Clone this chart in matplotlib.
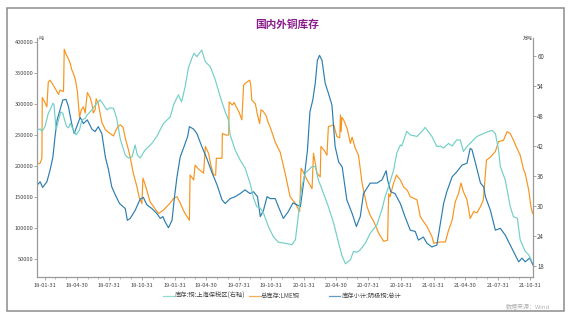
import matplotlib
matplotlib.use('Agg')
import matplotlib.pyplot as plt
import pandas as pd
from matplotlib.patches import Rectangle
from matplotlib.lines import Line2D

plt.rcParams['font.family'] = ['Noto Sans CJK SC', 'DejaVu Sans']

title = '国内外铜库存'
series_names = ['库存:铜:上海保税区(右轴)', '总库存:LME铜', '库存小计:阴极铜:总计']
left_unit = '吨'
right_unit = '万吨'
source_text = '数据来源：Wind'

lme_dates = ['2018-01-09','2018-01-17','2018-01-22','2018-01-23','2018-01-28','2018-02-05','2018-02-09','2018-02-14','2018-02-23','2018-03-05','2018-03-10','2018-03-14','2018-03-22','2018-03-24','2018-03-26','2018-03-31','2018-04-07','2018-04-12','2018-04-16','2018-04-20','2018-04-26','2018-05-02','2018-05-05','2018-05-08','2018-05-13','2018-05-19','2018-05-24','2018-05-30','2018-06-07','2018-06-12','2018-06-16','2018-06-21','2018-06-24','2018-06-30','2018-07-05','2018-07-10','2018-07-20','2018-08-02','2018-08-12','2018-08-17','2018-08-23','2018-08-31','2018-09-08','2018-09-14','2018-09-22','2018-09-28','2018-10-06','2018-10-17','2018-10-23','2018-10-31','2018-11-03','2018-11-09','2018-11-19','2018-11-23','2018-12-03','2018-12-10','2018-12-17','2018-12-22','2018-12-30','2019-01-09','2019-01-19','2019-01-28','2019-02-07','2019-02-16','2019-02-25','2019-03-05','2019-03-14','2019-03-16','2019-03-26','2019-03-30','2019-04-08','2019-04-23','2019-04-28','2019-05-07','2019-05-14','2019-05-21','2019-05-27','2019-05-29','2019-06-14','2019-06-15','2019-06-28','2019-07-03','2019-07-04','2019-07-13','2019-07-18','2019-07-26','2019-08-02','2019-08-09','2019-08-14','2019-08-21','2019-08-31','2019-09-03','2019-09-06','2019-09-16','2019-09-21','2019-09-28','2019-10-02','2019-10-08','2019-10-17','2019-10-22','2019-10-28','2019-11-06','2019-11-11','2019-11-25','2019-12-09','2019-12-23','2020-01-07','2020-01-19','2020-01-23','2020-01-29','2020-02-09','2020-02-23','2020-02-27','2020-03-08','2020-03-17','2020-03-19','2020-03-28','2020-04-05','2020-04-09','2020-04-24','2020-05-03','2020-05-11','2020-05-13','2020-05-15','2020-05-17','2020-05-22','2020-06-01','2020-06-10','2020-06-15','2020-06-24','2020-07-03','2020-07-13','2020-07-27','2020-08-05','2020-08-15','2020-08-29','2020-09-12','2020-09-23','2020-09-26','2020-09-30','2020-10-09','2020-10-18','2020-10-29','2020-11-07','2020-11-18','2020-11-26','2020-12-15','2020-12-24','2021-01-12','2021-01-26','2021-01-31','2021-02-19','2021-03-05','2021-03-14','2021-03-24','2021-04-02','2021-04-11','2021-04-18','2021-04-25','2021-05-05','2021-05-14','2021-05-24','2021-06-02','2021-06-12','2021-06-20','2021-06-23','2021-06-29','2021-07-10','2021-07-24','2021-08-02','2021-08-16','2021-08-26','2021-09-04','2021-09-13','2021-09-23','2021-10-02','2021-10-12','2021-10-16','2021-10-26','2021-11-01','2021-11-06']
lme_values = [203000,204000,212000,310000,305000,295000,335000,338000,330000,320000,315000,322000,320000,320000,388000,380000,372000,365000,355000,350000,340000,320000,300000,278000,290000,295000,285000,318000,310000,300000,285000,290000,308000,300000,285000,270000,258000,252000,248000,255000,262000,266000,262000,245000,228000,214000,190000,166000,150000,139000,180000,170000,150000,142000,134000,128000,123000,125000,128000,134000,140000,147000,150000,140000,128000,120000,112000,185000,177000,201000,195000,188000,231000,220000,200000,185000,185000,212000,212000,252000,249000,250000,303000,298000,302000,293000,285000,274000,330000,334000,338000,330000,306000,300000,285000,268000,290000,288000,280000,270000,262000,247000,238000,222000,188000,150000,139000,126000,196000,190000,177000,163000,220000,188000,182000,231000,225000,217000,263000,266000,247000,245000,282000,255000,278000,274000,260000,236000,246000,228000,217000,172000,134000,120000,110000,91000,78000,80000,155000,150000,170000,185000,177000,166000,160000,150000,145000,118000,102000,86000,75000,77000,77000,96000,112000,142000,155000,172000,158000,145000,115000,126000,124000,134000,145000,166000,209000,214000,223000,239000,241000,255000,252000,241000,228000,217000,193000,188000,161000,135000,123000]

shfe_dates = ['2018-01-09','2018-01-17','2018-01-24','2018-02-05','2018-02-14','2018-02-22','2018-02-28','2018-03-06','2018-03-14','2018-03-22','2018-03-31','2018-04-07','2018-04-16','2018-04-23','2018-05-02','2018-05-10','2018-05-19','2018-05-30','2018-06-12','2018-06-21','2018-06-30','2018-07-10','2018-07-20','2018-07-29','2018-08-07','2018-08-17','2018-08-29','2018-09-14','2018-09-20','2018-09-28','2018-10-12','2018-10-26','2018-11-04','2018-11-14','2018-11-28','2018-12-12','2018-12-22','2018-12-29','2019-01-04','2019-01-14','2019-01-24','2019-01-30','2019-02-07','2019-02-16','2019-02-27','2019-03-09','2019-03-14','2019-03-26','2019-04-04','2019-04-18','2019-05-02','2019-05-16','2019-05-31','2019-06-14','2019-06-23','2019-07-07','2019-07-21','2019-08-04','2019-08-18','2019-09-01','2019-09-11','2019-09-22','2019-09-30','2019-10-09','2019-10-19','2019-10-28','2019-11-11','2019-11-20','2019-12-04','2019-12-18','2019-12-31','2020-01-11','2020-01-21','2020-01-30','2020-02-10','2020-02-17','2020-02-25','2020-03-03','2020-03-09','2020-03-15','2020-03-22','2020-03-31','2020-04-09','2020-04-19','2020-04-28','2020-05-08','2020-05-18','2020-05-31','2020-06-15','2020-06-27','2020-07-08','2020-07-17','2020-08-05','2020-08-24','2020-09-07','2020-09-19','2020-09-23','2020-10-02','2020-10-14','2020-10-29','2020-11-11','2020-11-26','2020-12-10','2020-12-19','2021-01-02','2021-01-12','2021-01-26','2021-02-09','2021-02-19','2021-02-28','2021-03-09','2021-03-24','2021-04-06','2021-04-21','2021-05-05','2021-05-14','2021-05-19','2021-05-29','2021-06-12','2021-06-21','2021-06-26','2021-07-10','2021-07-24','2021-08-07','2021-08-21','2021-09-04','2021-09-18','2021-09-28','2021-10-07','2021-10-16','2021-10-29','2021-11-07']
shfe_values = [169000,174000,165000,174000,193000,214000,247000,274000,290000,306000,307000,295000,268000,252000,266000,278000,268000,274000,259000,255000,263000,252000,214000,193000,166000,153000,139000,131000,112000,115000,128000,146000,149000,137000,131000,123000,115000,118000,110000,100000,112000,145000,182000,214000,231000,247000,263000,259000,252000,231000,212000,190000,169000,145000,139000,147000,150000,155000,161000,155000,158000,150000,118000,128000,150000,147000,147000,134000,115000,126000,140000,137000,134000,172000,225000,287000,306000,333000,370000,378000,370000,333000,317000,298000,231000,206000,198000,145000,123000,102000,118000,155000,172000,172000,177000,192000,177000,158000,155000,139000,118000,96000,94000,80000,85000,75000,69000,72000,107000,139000,158000,182000,190000,201000,204000,228000,226000,204000,172000,166000,150000,128000,96000,99000,88000,72000,56000,45000,51000,45000,51000,40000]

bonded_dates = ['2018-01-09','2018-01-17','2018-01-22','2018-01-31','2018-02-09','2018-02-14','2018-02-22','2018-02-25','2018-03-03','2018-03-10','2018-03-16','2018-03-22','2018-03-28','2018-04-02','2018-04-07','2018-04-12','2018-04-21','2018-04-29','2018-05-08','2018-05-15','2018-05-24','2018-05-30','2018-06-12','2018-06-26','2018-07-05','2018-07-15','2018-07-24','2018-08-02','2018-08-12','2018-08-21','2018-08-31','2018-09-14','2018-09-23','2018-10-03','2018-10-12','2018-10-18','2018-10-26','2018-11-09','2018-11-28','2018-12-12','2018-12-31','2019-01-19','2019-01-30','2019-02-11','2019-02-20','2019-03-02','2019-03-11','2019-03-21','2019-03-27','2019-04-04','2019-04-11','2019-04-18','2019-04-28','2019-05-12','2019-05-26','2019-06-09','2019-06-23','2019-07-02','2019-07-07','2019-07-21','2019-08-04','2019-08-18','2019-09-01','2019-09-11','2019-09-20','2019-09-30','2019-10-09','2019-10-23','2019-11-06','2019-11-20','2019-12-09','2019-12-28','2020-01-07','2020-01-16','2020-01-25','2020-02-04','2020-02-13','2020-02-23','2020-03-03','2020-03-12','2020-03-26','2020-04-09','2020-04-24','2020-05-08','2020-05-18','2020-05-27','2020-06-10','2020-06-19','2020-06-29','2020-07-08','2020-07-22','2020-08-05','2020-08-24','2020-09-07','2020-09-16','2020-09-26','2020-10-10','2020-10-19','2020-10-29','2020-11-02','2020-11-11','2020-11-16','2020-11-26','2020-12-15','2020-12-29','2021-01-07','2021-01-26','2021-02-09','2021-02-19','2021-02-28','2021-03-14','2021-03-24','2021-04-06','2021-04-16','2021-04-25','2021-05-05','2021-05-19','2021-06-02','2021-06-21','2021-07-05','2021-07-15','2021-07-24','2021-08-02','2021-08-07','2021-08-21','2021-09-04','2021-09-13','2021-09-24','2021-10-02','2021-10-16','2021-10-26','2021-11-04']
bonded_values = [45.2,45.4,44.9,45.9,48.5,49.2,50.5,50.3,45.2,47.2,48.8,48.5,46.9,45.9,45.6,46.5,45.2,44.2,45.2,47.2,47.5,48.2,49.2,50.5,51.2,50.2,49.2,49.6,49.5,47.5,43.4,40.2,39.6,39.8,42.2,40.2,39.6,41.2,42.5,43.9,46.5,47.8,50.5,52.2,50.8,53.8,57.5,59.5,60.5,59.8,60.5,61.1,58.8,57.8,55.2,51.8,48.8,47.2,44.2,41.2,39.2,37.6,34.6,31.6,29.9,29.6,28.6,25.9,23.9,22.8,22.6,22.3,23.3,28.6,33.9,36.6,37.2,37.9,37.9,35.2,32.6,29.9,26.6,22.6,20.0,18.5,19.3,21.0,20.8,21.3,22.6,24.6,26.3,29.3,31.9,33.9,37.2,40.6,42.2,42.0,43.9,44.9,44.2,43.9,44.9,45.7,43.9,41.9,42.0,41.6,42.5,42.0,43.2,43.2,40.9,41.9,42.9,43.9,44.5,44.9,45.1,44.5,41.2,37.9,35.2,29.9,27.9,27.6,23.3,21.0,20.3,19.0]

xtick_dates = ['2018-01-31','2018-04-30','2018-07-31','2018-10-31','2019-01-31','2019-04-30','2019-07-31','2019-10-31','2020-01-31','2020-04-30','2020-07-31','2020-10-31','2021-01-31','2021-04-30','2021-07-31','2021-10-31']
xtick_labels = ['18-01-31','18-04-30','18-07-31','18-10-31','19-01-31','19-04-30','19-07-31','19-10-31','20-01-31','20-04-30','20-07-31','20-10-31','21-01-31','21-04-30','21-07-31','21-10-31']
left_ticks = [50000, 100000, 150000, 200000, 250000, 300000, 350000, 400000]
right_ticks = [18, 24, 30, 36, 42, 48, 54, 60]

c_teal = '#72cfc6'
c_orange = '#f7941d'
c_blue = '#2c7db0'
axis_gray = '#9a9a9a'
text_gray = '#444444'

W, H = 572, 327
fig = plt.figure(figsize=(W / 100, H / 100), dpi=100)
fig.patch.set_facecolor('white')

def fx(px):
    return px / W

def fy(py):
    return 1 - py / H

ax = fig.add_axes([fx(37.3), fy(276.7), fx(533.3) - fx(37.3), fy(38) - fy(276.7)])
ax2 = ax.twinx()

ax.plot(pd.to_datetime(lme_dates), lme_values, color=c_orange, lw=0.85)
ax.plot(pd.to_datetime(shfe_dates), shfe_values, color=c_blue, lw=0.85)
ax2.plot(pd.to_datetime(bonded_dates), bonded_values, color=c_teal, lw=0.85)

ax.set_xlim(pd.Timestamp('2018-01-09'), pd.Timestamp('2021-11-08'))
ax.set_ylim(21000, 406000)
ax2.set_ylim(15.93, 63.53)

ax.set_xticks(pd.to_datetime(xtick_dates))
ax.set_xticklabels(xtick_labels)
ax.set_xticks(pd.date_range('2018-01-31', '2021-10-31', freq='ME'), minor=True)
ax.set_yticks(left_ticks)
ax.set_yticklabels([str(v) for v in left_ticks])
ax2.set_yticks(right_ticks)
ax2.set_yticklabels([str(v) for v in right_ticks])

for a in (ax, ax2):
    a.spines['top'].set_visible(False)
    for s in ('left', 'right', 'bottom'):
        a.spines[s].set_color(axis_gray)
        a.spines[s].set_linewidth(0.9)
    a.set_facecolor('none')
ax.spines['right'].set_visible(False)
ax2.spines['left'].set_visible(False)
ax2.spines['bottom'].set_visible(False)

ax.tick_params(axis='x', which='major', length=2.5, width=0.6, color=axis_gray,
               labelsize=4.1, labelcolor=text_gray, pad=2)
ax.tick_params(axis='x', which='minor', length=1.6, width=0.5, color=axis_gray)
ax.tick_params(axis='y', length=2, width=0.6, color=axis_gray, labelsize=4.1,
               labelcolor=text_gray, pad=0.6)
ax2.tick_params(axis='y', length=2, width=0.6, color=axis_gray, labelsize=4.4,
                labelcolor=text_gray, pad=0.8)

fig.text(fx(38.2), fy(38.5), left_unit, fontsize=3.5, color=text_gray, ha='left', va='center')
fig.text(fx(532.3), fy(38.5), right_unit, fontsize=3.5, color=text_gray, ha='right', va='center')

fig.text(fx(287), fy(25), title, fontsize=7.7, fontweight='bold', color='#8a1c8c',
         ha='center', va='center')

legend_items = [(c_teal, 163, 174.3, series_names[0]),
                (c_orange, 249, 260.5, series_names[1]),
                (c_blue, 329, 342, series_names[2])]
for col, x0, xt, name in legend_items:
    fig.add_artist(Line2D([fx(x0), fx(x0 + 11)], [fy(295.7), fy(295.7)],
                          color=col, lw=0.9, alpha=0.75))
    fig.text(fx(xt), fy(295.7), name, fontsize=4.5, color=text_gray, ha='left', va='center')

fig.text(fx(550), fy(306.7), source_text, fontsize=4.3, color='#b0b0b0', ha='right', va='center')

fig.add_artist(Rectangle((fx(6.5), fy(310.5)), fx(564) - fx(6.5), fy(8) - fy(310.5),
                         transform=fig.transFigure, fill=False, edgecolor='#8c8c8c', lw=1.1))

fig.savefig('out.png', dpi=100, facecolor='white')
